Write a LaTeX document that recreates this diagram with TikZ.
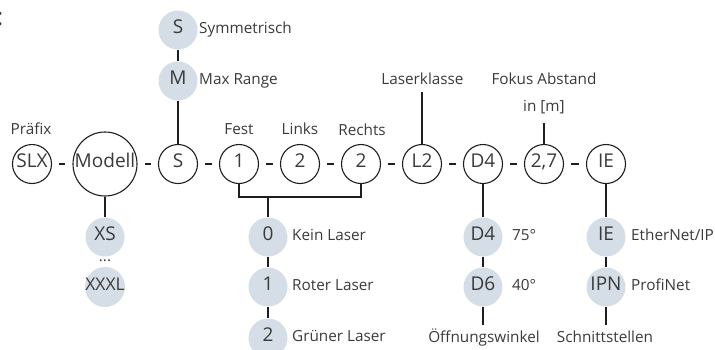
\documentclass[tikz,border=0pt]{standalone}
\usepackage{fontspec}
\setmainfont{Open Sans}
\definecolor{txt}{HTML}{3A3A3A}
\definecolor{greyfill}{HTML}{D5DEE6}
\definecolor{ln}{HTML}{1E1E1E}
\begin{document}
\begin{tikzpicture}[x=1pt,y=-1pt,
  every node/.style={text=txt},
  code/.style={circle, draw=ln, line width=1.1pt, minimum size=39pt, inner sep=0pt,
    font=\fontsize{19}{22}\selectfont, text height=0.714em, text depth=0pt},
  opt/.style={circle, fill=greyfill, minimum size=39pt, inner sep=0pt,
    font=\fontsize{19}{22}\selectfont, text height=0.714em, text depth=0pt},
  lbl/.style={inner sep=0pt, font=\fontsize{15.3}{18}\selectfont, text height=0.714em, text depth=0pt},
  conn/.style={draw=ln, line width=1.1pt},
  gapline/.style={conn, shorten <=7pt, shorten >=7pt}
]
\useasboundingbox (0,0) rectangle (715,349);
% cut-off mark at the left edge
\node[anchor=base east, inner sep=0pt, font=\fontsize{24}{28}\selectfont] (colon) at (3.5,25) {:};
% main row
\node[code] (slx) at (32,164) {SLX};
\node[code, minimum size=64pt] (mod) at (105,164) {Modell};
\node[code] (s) at (178,164) {S};
\node[code] (f1) at (239,164) {1};
\node[code] (ln2) at (300,164) {2};
\node[code] (r2) at (361,164) {2};
\node[code] (lk) at (422,164) {L2};
\node[code] (d4) at (483,164) {D4};
\node[code] (fk) at (544,164) {2,7};
\node[code] (ie) at (606,164) {IE};
\foreach \a/\b in {slx/mod, mod/s, s/f1, f1/ln2, ln2/r2, r2/lk, lk/d4, d4/fk, fk/ie}
  \draw[gapline] (\a) -- (\b);
% labels above
\node[lbl] (praefix) at (31,131) {Präfix};
\node[lbl] (fest) at (239,131) {Fest};
\node[lbl] (links) at (300,131) {Links};
\node[lbl] (rechts) at (362,132) {Rechts};
\node[lbl] (lklasse) at (422.5,81) {Laserklasse};
\node[lbl] (fokus) at (544,81) {Fokus Abstand};
\node[lbl] (inm) at (544,108) {in [m]};
\coordinate (lktop) at (422,92);
\coordinate (fktop) at (544,123);
\draw[conn] (lktop) -- (lk);
\draw[conn] (fktop) -- (fk);
% S options
\node[opt] (sym) at (178,30) {S};
\node[opt] (max) at (178,81) {M};
\node[lbl, anchor=west] (symt) at (199,30) {Symmetrisch};
\node[lbl, anchor=west] (maxt) at (199,81) {Max Range};
\draw[conn] (sym) -- (max);
\draw[conn] (max) -- (s);
% Modell options
\node[opt] (xs) at (105,237) {XS};
\node[lbl] (dots) at (105,258) {...};
\node[opt, font=\fontsize{17.5}{20}\selectfont] (xxxl) at (105,287) {XXXL};
\draw[conn] (mod) -- (xs);
% laser bracket
\coordinate (bl) at (239,197);
\coordinate (br) at (361,197);
\coordinate (bm) at (268,197);
\draw[conn] (f1.south) -- (bl) -- (br) -- (r2.south);
\node[opt] (l0) at (268,237) {0};
\node[opt] (l1) at (268,287) {1};
\node[opt] (l2) at (268,338) {2};
\draw[conn] (bm) -- (l0);
\draw[conn] (l0) -- (l1);
\draw[conn] (l1) -- (l2);
\node[lbl, anchor=west] (l0t) at (292,237) {Kein Laser};
\node[lbl, anchor=west] (l1t) at (292,287) {Roter Laser};
\node[lbl, anchor=west] (l2t) at (292,338) {Grüner Laser};
% opening angle
\node[opt] (d4o) at (483,237) {D4};
\node[opt] (d6o) at (483,287) {D6};
\node[lbl, anchor=west] (d4t) at (512,237) {75°};
\node[lbl, anchor=west] (d6t) at (512,287) {40°};
\coordinate (d4end) at (483,325);
\draw[conn] (d4) -- (d4o);
\draw[conn] (d4o) -- (d6o);
\draw[conn] (d6o) -- (d4end);
\node[lbl] (oeff) at (484,339) {Öffnungswinkel};
% interfaces
\node[opt] (ieo) at (606,237) {IE};
\node[opt] (ipn) at (606,287) {IPN};
\node[lbl, anchor=west] (iet) at (631,237) {EtherNet/IP};
\node[lbl, anchor=west] (ipnt) at (631,287) {ProfiNet};
\coordinate (ieend) at (606,325);
\draw[conn] (ie) -- (ieo);
\draw[conn] (ieo) -- (ipn);
\draw[conn] (ipn) -- (ieend);
\node[lbl] (schn) at (605,339) {Schnittstellen};
\end{tikzpicture}
\end{document}
